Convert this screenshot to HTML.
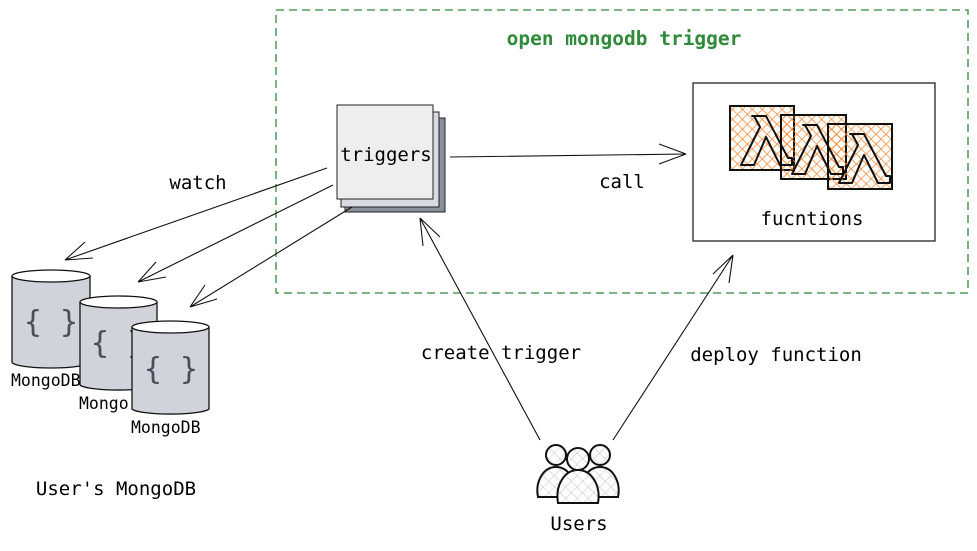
<!DOCTYPE html>
<html><head><meta charset="utf-8"><style>
html,body{margin:0;padding:0;background:#fff;}
svg text{font-family:"DejaVu Sans Mono","Liberation Mono",monospace;}
</style></head><body>
<svg width="977" height="546" viewBox="0 0 977 546" xmlns="http://www.w3.org/2000/svg">
<defs>
<pattern id="xo" width="7" height="7" patternUnits="userSpaceOnUse" patternTransform="rotate(45)">
<path d="M0 0H7M0 0V7" stroke="#f5842a" stroke-width="1.4"/>
</pattern>
<pattern id="xg" width="8" height="8" patternUnits="userSpaceOnUse" patternTransform="rotate(45)">
<rect width="8" height="8" fill="#fff"/>
<path d="M0 0H8M0 0V8" stroke="#c8ccd3" stroke-width="1.2"/>
</pattern>
<path id="lam" d="M0 0h14l22 42h4v7h-12l-14-28-12 28h-13l19-38-6-11h-2z"/>
</defs>
<rect x="276" y="10" width="692" height="283" fill="none" stroke="#2f8a3a" stroke-width="1.3" stroke-dasharray="8 5"/>
<text x="624" y="45" font-size="19.5" fill="#2f8a3a" text-anchor="middle" font-weight="bold">open mongodb trigger</text>

<!-- triggers -->
<rect x="345" y="118" width="100" height="94" fill="#8a9099" stroke="#222"/>
<rect x="341" y="112" width="98" height="95" fill="#d8dbe0" stroke="#222"/>
<rect x="337" y="105" width="96" height="94" fill="#eee" stroke="#222"/>
<text x="386" y="161" font-size="19" text-anchor="middle">triggers</text>

<!-- functions -->
<rect x="693" y="83" width="242" height="158" fill="#fff" stroke="#222" stroke-width="1.3"/>
<g stroke="#111" stroke-width="2" fill="url(#xo)">
<rect x="730" y="106" width="64" height="64"/>
<rect x="781" y="115" width="65" height="64"/>
<rect x="828" y="124" width="64" height="65"/>
</g>
<g stroke="#111" stroke-width="2" fill="none" stroke-linejoin="round">
<use href="#lam" x="752" y="116"/>
<use href="#lam" x="803" y="125"/>
<use href="#lam" x="850" y="134"/>
</g>
<text x="812" y="225" font-size="19" text-anchor="middle">fucntions</text>

<!-- cylinders -->
<g stroke="#111" stroke-width="1.3">
<path d="M12 276v86a39 6 0 0 0 78 0v-86" fill="#d0d4da"/>
<ellipse cx="51" cy="276" rx="39" ry="6" fill="#fff"/>
<text x="51" y="332" font-size="30" fill="#4a4f57" stroke="none" text-anchor="middle">{ }</text>
<path d="M80 302v83a39 6 0 0 0 77 0v-83" fill="#d0d4da"/>
<ellipse cx="118.5" cy="302" rx="38.5" ry="6" fill="#fff"/>
<text x="118" y="353" font-size="30" fill="#4a4f57" stroke="none" text-anchor="middle">{ }</text>
<path d="M132 327v82a39 6 0 0 0 77 0v-82" fill="#d0d4da"/>
<ellipse cx="170.5" cy="327" rx="38.5" ry="6" fill="#fff"/>
<text x="171" y="379" font-size="30" fill="#4a4f57" stroke="none" text-anchor="middle">{ }</text>
</g>
<text x="11" y="386" font-size="16.5">MongoDB</text>
<text x="79" y="409" font-size="16.5">Mongo</text>
<text x="131" y="433" font-size="16.5">MongoDB</text>
<text x="116" y="495" font-size="19" text-anchor="middle">User's MongoDB</text>

<!-- arrows -->
<g stroke="#111" stroke-width="1.1" fill="none">
<path d="M327 168L65 260M65 260l28-2M65 260l20-18"/>
<path d="M333 185L138 282M138 282l28-5M138 282l18-20"/>
<path d="M352 207L190 307M190 307l27-8M190 307l15-22"/>
<path d="M450 157L686 154M686 154l-27-10M686 154l-27 10"/>
<path d="M540 440L420 218M420 218l3 28M420 218l20 19"/>
<path d="M613 440L733 255M733 255l-20 19M733 255l-4 28"/>
</g>
<text x="198" y="189" font-size="19" text-anchor="middle">watch</text>
<text x="622" y="188" font-size="19" text-anchor="middle">call</text>
<text x="501" y="359" font-size="19" text-anchor="middle">create trigger</text>
<text x="776" y="361" font-size="19" text-anchor="middle">deploy function</text>

<!-- users -->
<g stroke="#111" stroke-width="2" fill="url(#xg)">
<circle cx="556" cy="455" r="10"/>
<path d="M538 497c-3-15 5-30 18-30s21 15 18 30z"/>
<circle cx="600" cy="455" r="10"/>
<path d="M582 497c-3-15 5-30 18-30s21 15 18 30z"/>
<circle cx="578" cy="459" r="11"/>
<path d="M558 503c-3-17 6-33 20-33s23 16 20 33z"/>
</g>
<text x="579" y="530" font-size="19" text-anchor="middle">Users</text>
</svg>
</body></html>
